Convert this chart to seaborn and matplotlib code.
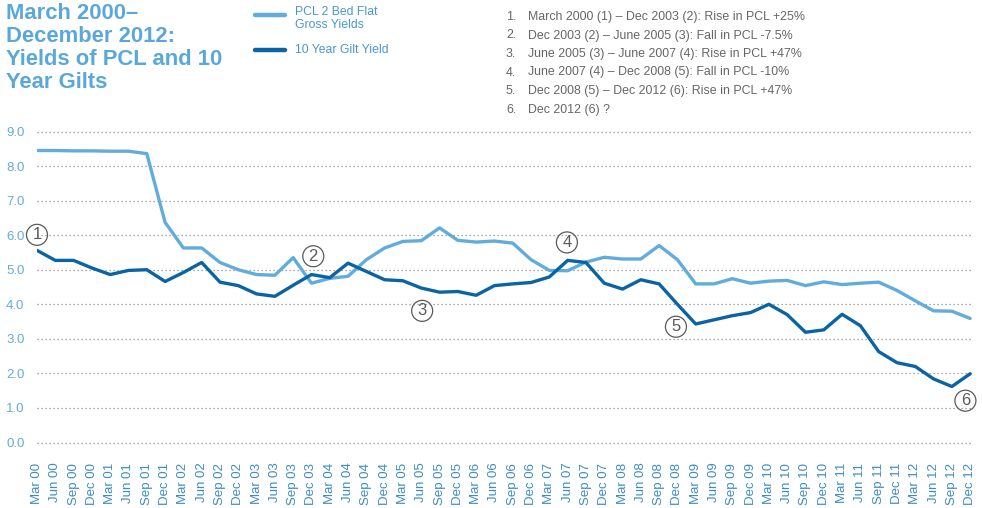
import pandas as pd
import matplotlib.pyplot as plt
import seaborn as sns
from matplotlib.lines import Line2D

# ------------------- Data -------------------
quarters = [f"{m} {y:02d}" for y in range(0, 13) for m in ["Mar", "Jun", "Sep", "Dec"]]

pcl_yield = [8.45, 8.45, 8.44, 8.44, 8.43, 8.43, 8.36, 6.37, 5.63, 5.63,
             5.21, 5.00, 4.86, 4.84, 5.35, 4.61, 4.75, 4.81, 5.29, 5.63,
             5.82, 5.84, 6.21, 5.85, 5.80, 5.83, 5.77, 5.29, 4.98, 4.97,
             5.22, 5.36, 5.31, 5.31, 5.70, 5.29, 4.59, 4.59, 4.74, 4.61,
             4.67, 4.69, 4.54, 4.65, 4.57, 4.61, 4.64, 4.40, 4.10, 3.81,
             3.80, 3.59]

gilt_yield = [5.56, 5.27, 5.27, 5.05, 4.86, 4.98, 5.00, 4.66, 4.92, 5.21,
              4.64, 4.54, 4.30, 4.23, 4.55, 4.86, 4.77, 5.19, 4.95, 4.71,
              4.68, 4.47, 4.35, 4.37, 4.26, 4.54, 4.59, 4.63, 4.79, 5.27,
              5.21, 4.61, 4.44, 4.71, 4.59, 4.00, 3.43, 3.55, 3.67, 3.76,
              4.00, 3.70, 3.19, 3.26, 3.71, 3.38, 2.63, 2.31, 2.20, 1.84,
              1.62, 1.99]

series_names = ["PCL 2 Bed Flat\nGross Yields", "10 Year Gilt Yield"]
series_colors = ["#62acdc", "#0a64a4"]

# circled markers: label, quarter position, yield
marker_labels = ["1", "2", "3", "4", "5", "6"]
marker_x = [0.0, 15.1, 21.05, 28.96, 34.92, 50.74]
marker_y = [6.01, 5.39, 3.81, 5.79, 3.35, 1.21]

notes = [
    "March 2000 (1) \u2013 Dec 2003 (2): Rise in PCL +25%",
    "Dec 2003 (2) \u2013 June 2005 (3): Fall in PCL -7.5%",
    "June 2005 (3) \u2013 June 2007 (4): Rise in PCL +47%",
    "June 2007 (4) \u2013 Dec 2008 (5): Fall in PCL -10%",
    "Dec 2008 (5) \u2013 Dec 2012 (6): Rise in PCL +47%",
    "Dec 2012 (6) ?",
]

df = pd.DataFrame({
    "idx": list(range(len(quarters))) * 2,
    "value": pcl_yield + gilt_yield,
    "series": [series_names[0]] * len(quarters) + [series_names[1]] * len(quarters),
})

# ------------------- Plot -------------------
sns.set_style("white")
plt.rcParams["font.family"] = ["Liberation Sans", "DejaVu Sans"]

fig = plt.figure(figsize=(9.82, 5.08), dpi=100)
ax = fig.add_axes([37 / 982, 1 - 442.5 / 508, 935 / 982, 311 / 508])

for y in range(10):
    ax.axhline(y, color="#8a8a8a", lw=0.9, ls=(0, (1, 2.2)), zorder=0, clip_on=False)

sns.lineplot(data=df, x="idx", y="value", hue="series",
             palette=dict(zip(series_names, series_colors)),
             linewidth=2.4, legend=False, ax=ax)

ax.set_xlim(0, 51.1)
ax.set_ylim(0, 9)
ax.set_yticks(range(10))
ax.set_yticklabels([f"{v:.1f}" for v in range(10)], color="#62acdc", fontsize=9.5)
ax.set_xticks(range(len(quarters)))
ax.set_xticklabels(quarters, rotation=90, color="#3d8cc6", fontsize=9.5)
ax.tick_params(axis="x", length=0, pad=14.5)
ax.tick_params(axis="y", length=0, pad=9)
ax.set_xlabel("")
ax.set_ylabel("")
sns.despine(ax=ax, left=True, bottom=True)

for lab, mx, my in zip(marker_labels, marker_x, marker_y):
    ax.text(mx, my, lab, ha="center", va="center", fontsize=12, color="#5a5a5a",
            bbox=dict(boxstyle="circle,pad=0.18", fc="none", ec="#5a5a5a", lw=0.9),
            clip_on=False, zorder=5)

# title
fig.text(6 / 982, 1 - 3 / 508, "March 2000\u2013\nDecember 2012:\nYields of PCL and 10\nYear Gilts",
         ha="left", va="top", fontsize=15.8, fontweight="bold", color="#5aa8da",
         linespacing=1.12)

# legend
leg_y = [15, 50]
for name, col, ly in zip(series_names, series_colors, leg_y):
    yy = 1 - ly / 508
    fig.add_artist(Line2D([255 / 982, 285 / 982], [yy, yy], color=col, lw=3.2,
                          transform=fig.transFigure))
fig.text(295 / 982, 1 - 6 / 508, series_names[0], ha="left", va="top",
         fontsize=8.8, color="#4a97cf", linespacing=1.1)
fig.text(295 / 982, 1 - 50 / 508, series_names[1], ha="left", va="center",
         fontsize=8.8, color="#4a97cf")

# numbered notes
for i, note in enumerate(notes):
    yy = 1 - (17 + 18.5 * i) / 508
    fig.text(506 / 982, yy, f"{i + 1}.", ha="left", va="center", fontsize=8.9, color="#666666")
    fig.text(528 / 982, yy, note, ha="left", va="center", fontsize=8.9, color="#666666")

fig.savefig("out.png", dpi=100)
